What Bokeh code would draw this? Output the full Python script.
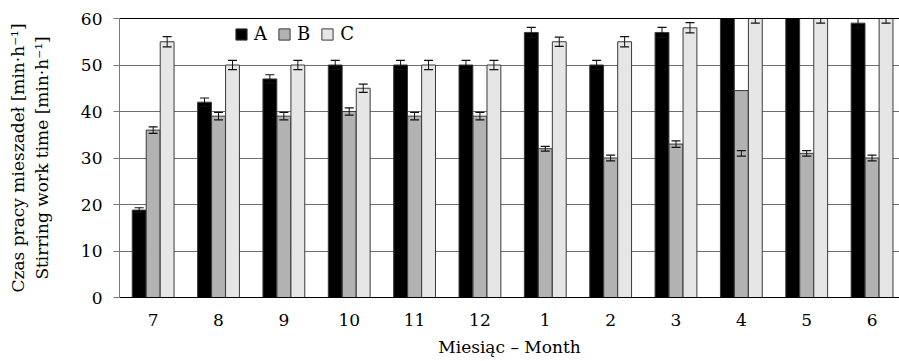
import numpy as np
from bokeh.plotting import figure
from bokeh.models import ColumnDataSource, FixedTicker, LinearAxis, Range1d
from bokeh.transform import dodge
from bokeh.embed import file_html
from bokeh.resources import INLINE

months = ["7", "8", "9", "10", "11", "12", "1", "2", "3", "4", "5", "6"]
a_vals = [18.8, 42, 47, 50, 50, 50, 57, 50, 57, 63, 62, 59]
a_err = [0.5, 0.9, 0.9, 1.0, 1.0, 1.0, 1.1, 1.0, 1.1, 1.2, 1.2, 1.0]
b_vals = [36, 39, 39, 40, 39, 39, 32, 30, 33, 44.5, 31, 30]
b_err_mid = [36, 39, 39, 40, 39, 39, 32, 30, 33, 31, 31, 30]
b_err = [0.7, 0.8, 0.8, 0.8, 0.8, 0.8, 0.5, 0.6, 0.7, 0.6, 0.6, 0.6]
c_vals = [55, 50, 50, 45, 50, 50, 55, 55, 58, 60, 60, 60]
c_err = [1.1, 1.0, 1.0, 0.9, 1.0, 1.0, 1.0, 1.1, 1.1, 1.0, 1.0, 1.0]
series_names = ["A", "B", "C"]
y_ticks = [0, 10, 20, 30, 40, 50, 60]
y_title_1 = "Czas pracy mieszadeł [min·h⁻¹]"
y_title_2 = "Stirring work time [min·h⁻¹]"
x_title = "Miesiąc – Month"

FONT = "DejaVu Serif"
x = np.arange(len(months))
src = ColumnDataSource(dict(
    x=x,
    a=a_vals, a_lo=np.array(a_vals) - np.array(a_err), a_up=np.array(a_vals) + np.array(a_err),
    b=b_vals, b_lo=np.array(b_err_mid) - np.array(b_err), b_up=np.array(b_err_mid) + np.array(b_err),
    c=c_vals, c_lo=np.array(c_vals) - np.array(c_err), c_up=np.array(c_vals) + np.array(c_err),
))

p = figure(frame_width=780, frame_height=279, output_backend="svg", toolbar_location=None,
           x_range=Range1d(-0.515, 11.42), y_range=Range1d(0, 60),
           min_border_left=119, min_border_right=0, min_border_top=18, min_border_bottom=64)
p.outline_line_color = None
p.background_fill_color = "white"

W = 0.212
OFF = 0.214
colors = ["#000000", "#b2b2b2", "#e6e6e6"]
fields = ["a", "b", "c"]
offs = [-OFF, 0, OFF]
for f, col, off, name in zip(fields, colors, offs, series_names):
    p.vbar(x=dodge("x", off, range=p.x_range), top=f, width=W, source=src,
           fill_color=col, line_color="#3a3a3a", line_width=1, legend_label=name)
ERR_COL = "#111111"
for f, off in zip(fields, offs):
    xd = dodge("x", off, range=p.x_range)
    p.segment(x0=xd, x1=xd, y0=f + "_lo", y1=f + "_up", source=src, line_color=ERR_COL, line_width=1)
    p.scatter(x=xd, y=f + "_lo", marker="dash", size=9, source=src, line_color=ERR_COL, line_width=1.2)
    p.scatter(x=xd, y=f + "_up", marker="dash", size=9, source=src, line_color=ERR_COL, line_width=1.2)

# axes
p.xaxis.ticker = FixedTicker(ticks=list(x))
p.xaxis.major_label_overrides = {int(i): m for i, m in zip(x, months)}
p.xaxis.major_tick_line_color = None
p.xaxis.minor_tick_line_color = None
p.xaxis.axis_line_color = "black"
p.xaxis.axis_line_width = 1.2
p.xaxis.major_label_standoff = 10
p.xaxis.major_label_text_font = FONT
p.xaxis.major_label_text_font_size = "17px"
p.xaxis.major_label_text_color = "black"
p.xaxis.axis_label = x_title
p.xaxis.axis_label_text_font = FONT
p.xaxis.axis_label_text_font_size = "17px"
p.xaxis.axis_label_text_font_style = "normal"
p.xaxis.axis_label_text_color = "black"
p.xaxis.axis_label_standoff = 8

p.yaxis.ticker = FixedTicker(ticks=y_ticks)
p.yaxis.axis_line_color = "#7a7a7a"
p.yaxis.major_tick_line_color = "#7a7a7a"
p.yaxis.major_tick_out = 6
p.yaxis.major_tick_in = 0
p.yaxis.minor_tick_line_color = None
p.yaxis.major_label_standoff = 11
p.yaxis.major_label_text_font = FONT
p.yaxis.major_label_text_font_size = "17px"
p.yaxis.major_label_text_color = "black"
p.yaxis.axis_label = y_title_2
p.yaxis.axis_label_text_font = FONT
p.yaxis.axis_label_text_font_size = "17px"
p.yaxis.axis_label_text_font_style = "normal"
p.yaxis.axis_label_text_color = "black"
p.yaxis.axis_label_standoff = 26

outer_axis = LinearAxis(ticker=FixedTicker(ticks=[]), axis_line_color=None,
                        major_tick_line_color=None, minor_tick_line_color=None,
                        major_label_text_font_size="0px", major_label_standoff=0,
                        major_tick_out=0, major_tick_in=0,
                        axis_label=y_title_1, axis_label_text_font=FONT,
                        axis_label_text_font_size="17px", axis_label_text_font_style="normal",
                        axis_label_text_color="black", axis_label_standoff=1)
p.add_layout(outer_axis, "left")

top_axis = LinearAxis(ticker=FixedTicker(ticks=[]), axis_line_color="black", axis_line_width=1,
                      major_tick_line_color=None, minor_tick_line_color=None,
                      major_label_text_font_size="0px", major_tick_out=0, major_label_standoff=0)
p.add_layout(top_axis, "above")

p.xgrid.grid_line_color = None
p.ygrid.ticker = FixedTicker(ticks=y_ticks)
p.ygrid.grid_line_color = "#6e6e6e"
p.ygrid.grid_line_width = 1

lg = p.legend[0]
lg.orientation = "horizontal"
lg.location = (115, 253)
lg.border_line_color = None
lg.background_fill_alpha = 0
lg.padding = 0
lg.margin = 0
lg.spacing = 10
lg.glyph_width = 14
lg.glyph_height = 14
lg.label_standoff = 6
lg.label_width = 12
lg.label_text_font = FONT
lg.label_text_font_size = "18px"
lg.label_text_color = "black"

open("out.html", "w").write(file_html(p, INLINE))
